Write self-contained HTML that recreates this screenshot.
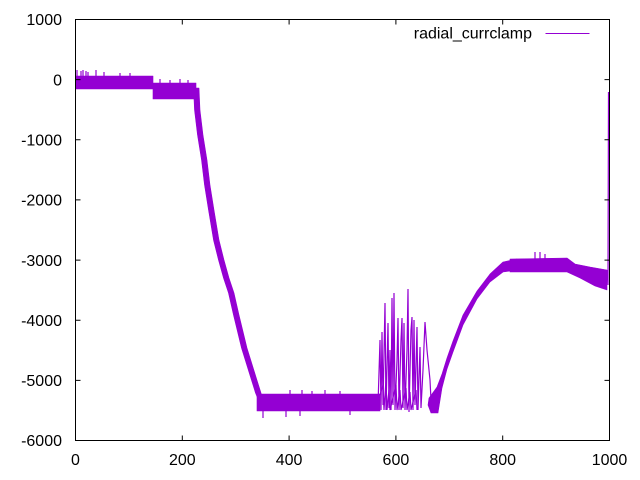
<!DOCTYPE html>
<html><head><meta charset="utf-8"><style>
html,body{margin:0;padding:0;background:#fff;}
svg{display:block;}
text{font-family:"Liberation Sans",sans-serif;font-size:16px;fill:#000;}
</style></head><body>
<svg width="640" height="480" viewBox="0 0 640 480" xmlns="http://www.w3.org/2000/svg">
<rect x="0" y="0" width="640" height="480" fill="#fff"/>
<g fill="#9400d3" stroke="#9400d3" stroke-width="0.6" stroke-linejoin="round">
<!-- start flat -->
<polygon points="75.5,76 153,76 153,83 196,83 196,99 153,99 153,89 75.5,89"/>
<!-- descent -->
<polygon points="193.5,88 194.5,110 197.5,135 201.5,160 204.5,185 208.5,210 213.5,240 218.5,260 223.5,278 228.5,293 233.5,315 241.5,348 250.5,377 255.5,393 260.5,405 264,405 261,393 256,377 247,348 239,315 234,293 229,278 224,260 219,240 214,210 210,185 207,160 203,135 200,110 199,88"/>
<!-- bottom flat -->
<polygon points="257,394 380,394 380,411 257,411"/>
<!-- rise -->
<polygon points="429,398 437,387 442,374 447,358 453,341 463,315 477,291 490,274 503,262 517,259 517,270 503,272 490,282 477,299 463,325 453,352 447,369 442,388 438,413 431,413 428,405"/>
<!-- plateau -->
<polygon points="510,259 567,258 575,264 590,267 607,270 607,290 595,286 580,278 567,272 510,272"/>
</g>
<g fill="none" stroke="#9400d3" stroke-width="1.2" stroke-linejoin="miter">
<!-- spikes region -->
<polyline points="376,410 378,405 380,340 381,410 382,332 383,405 385,303 386,410 388,323 389,408 390,350 391,410 392,298 393,405 394,293 395,410 397,360 398,318 399,410 401,340 402,318 403,408 404,323 405,410 407,350 408,289 409,412 411,330 412,317 413,410 414,320 415,405 417,327 418,410 420,347 421,408 423,370 425,322 427,350 429,370 430,380 431,400 433,412"/>
<polyline points="380,395 383,385 384,410 386,380 387,410 389,390 390,410 396,385 397,410 400,390 401,410 406,388 407,410 410,392 411,410 416,390 417,410"/>
<!-- final vertical -->
<polyline points="606,288 607,270 608,285 608.5,92"/>
<!-- small spikes -->
<path d="M77,76V70 M81,76V71 M83,76V70 M86,76V71 M88,76V72 M96,76V70 M104,76V72 M120,76V73 M130,76V73 M160,83V79 M170,83V80 M180,83V79 M188,83V80
M263,411V418 M286,411V417 M300,411V416 M350,411V415 M290,394V390 M302,394V390 M312,394V391 M325,394V390 M340,394V391 M535,259V252 M540,259V252 M545,259V254"/>
</g>
<!-- border -->
<rect x="75.5" y="19.5" width="534" height="421" fill="none" stroke="#000" stroke-width="1"/>
<!-- ticks -->
<g stroke="#000" stroke-width="1">
<path d="M75.5,19.5h5 M75.5,79.6h5 M75.5,139.8h5 M75.5,199.9h5 M75.5,260.1h5 M75.5,320.2h5 M75.5,380.4h5 M75.5,440.5h5
M609.5,19.5h-5 M609.5,79.6h-5 M609.5,139.8h-5 M609.5,199.9h-5 M609.5,260.1h-5 M609.5,320.2h-5 M609.5,380.4h-5 M609.5,440.5h-5
M75.5,440.5v-5 M182.3,440.5v-5 M289.1,440.5v-5 M395.9,440.5v-5 M502.7,440.5v-5 M609.5,440.5v-5
M75.5,19.5v5 M182.3,19.5v5 M289.1,19.5v5 M395.9,19.5v5 M502.7,19.5v5 M609.5,19.5v5"/>
</g>
<!-- y labels -->
<g text-anchor="end">
<text x="62" y="25.2">1000</text>
<text x="62" y="85.3">0</text>
<text x="62" y="145.5">-1000</text>
<text x="62" y="205.6">-2000</text>
<text x="62" y="265.8">-3000</text>
<text x="62" y="325.9">-4000</text>
<text x="62" y="386.1">-5000</text>
<text x="62" y="446.2">-6000</text>
</g>
<!-- x labels -->
<g text-anchor="middle">
<text x="75.5" y="465">0</text>
<text x="182.3" y="465">200</text>
<text x="289.1" y="465">400</text>
<text x="395.9" y="465">600</text>
<text x="502.7" y="465">800</text>
<text x="609.5" y="465">1000</text>
</g>
<!-- legend -->
<text x="532" y="38.7" text-anchor="end">radial_currclamp</text>
<line x1="545.5" y1="33.5" x2="589.5" y2="33.5" stroke="#9400d3" stroke-width="1"/>
</svg>
</body></html>
